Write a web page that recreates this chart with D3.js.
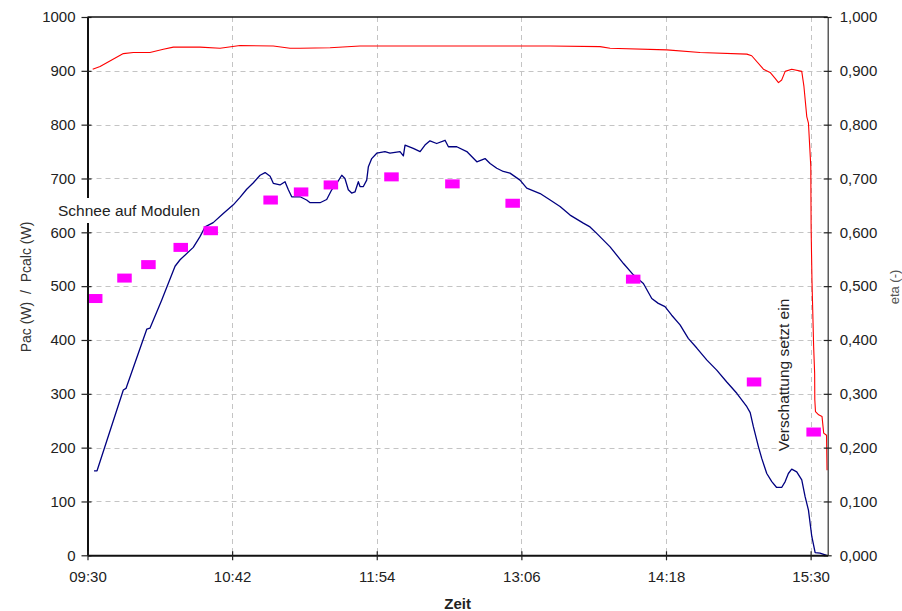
<!DOCTYPE html>
<html><head><meta charset="utf-8">
<script src="https://cdn.jsdelivr.net/npm/d3@7"></script>
<style>
html,body{margin:0;padding:0;background:#fff;}
svg{display:block;font-family:"Liberation Sans",Arial,sans-serif;}
</style></head>
<body><svg id="chart" width="902" height="611"></svg>
<script>
const xTickLabels = ["09:30","10:42","11:54","13:06","14:18","15:30"];
const yLeftTicks = [0,100,200,300,400,500,600,700,800,900,1000];
const yRightTicks = [0,0.1,0.2,0.3,0.4,0.5,0.6,0.7,0.8,0.9,1.0];

const pacTimes = ["09:33:15","09:34:45","09:47:50","09:49:10","09:59:30","10:01:05","10:06:55","10:13:35","10:16:05","10:22:40","10:26:00","10:28:30","10:32:35","10:37:35","10:42:35","10:45:55","10:49:15","10:52:35","10:55:55","10:58:25","11:00:55","11:02:30","11:05:50","11:08:20","11:10:00","11:11:40","11:15:50","11:19:05","11:20:50","11:25:45","11:29:05","11:31:35","11:34:05","11:36:35","11:38:10","11:39:50","11:41:30","11:43:10","11:44:50","11:45:40","11:47:20","11:49:00","11:49:50","11:51:30","11:54:00","11:58:05","12:00:35","12:05:35","12:07:15","12:08:05","12:12:10","12:15:35","12:18:00","12:20:30","12:23:50","12:28:00","12:29:40","12:33:50","12:38:50","12:43:50","12:47:55","12:50:25","12:53:45","12:57:00","13:00:20","13:05:20","13:08:40","13:15:20","13:20:20","13:25:15","13:30:15","13:36:50","13:40:10","13:43:30","13:50:10","13:56:50","14:01:45","14:06:45","14:10:55","14:14:10","14:17:30","14:20:50","14:25:00","14:29:05","14:33:20","14:38:15","14:43:15","14:48:15","14:53:15","14:58:15","14:59:55","15:01:30","15:04:00","15:05:40","15:08:10","15:10:40","15:13:05","15:15:35","15:17:20","15:18:55","15:20:35","15:23:05","15:25:35","15:27:15","15:28:55","15:30:35","15:32:15","15:34:40","15:38:00"];
const pacValues = [157,157,307,310,420,422,474,537,549,572,592,610,618,635,651,665,680,692,706,711,704,691,688,694,679,666,666,660,655,655,661,679,691,706,700,679,673,675,694,685,685,697,722,737,747,750,747,750,742,762,756,750,762,770,765,771,759,759,750,731,737,728,719,713,710,697,682,672,660,648,632,617,610,598,573,542,521,505,477,468,462,446,428,403,385,363,344,322,301,276,265,239,202,180,152,137,126,126,137,152,160,155,140,109,84,35,5,4,0];

const etaTimes = ["09:32:35","09:36:15","09:47:50","09:52:50","10:01:05","10:07:45","10:12:45","10:26:00","10:36:00","10:45:55","11:02:30","11:10:50","11:15:50","11:30:45","11:45:40","12:30:30","13:20:20","13:45:10","13:50:10","14:18:25","14:35:00","14:58:15","15:00:40","15:06:30","15:09:50","15:12:20","15:14:00","15:15:35","15:17:20","15:20:35","15:25:35","15:26:40","15:28:05","15:28:55","15:30:05","15:30:10","15:30:15","15:30:40","15:31:30","15:32:00","15:32:05","15:32:25","15:34:00","15:35:40","15:36:30","15:37:55","15:38:10"];
const etaValues = [0.903,0.908,0.932,0.934,0.934,0.940,0.944,0.944,0.942,0.947,0.946,0.942,0.942,0.943,0.946,0.946,0.946,0.945,0.942,0.939,0.934,0.931,0.928,0.903,0.897,0.886,0.878,0.883,0.899,0.903,0.899,0.871,0.815,0.803,0.722,0.660,0.607,0.511,0.388,0.338,0.289,0.267,0.261,0.258,0.227,0.223,0.158];

const pcalcTimes = ["09:33:50","09:48:25","10:00:20","10:16:25","10:31:20","11:01:10","11:16:20","11:31:10","12:01:20","12:31:40","13:01:40","14:01:40","15:01:50","15:31:30"];
const pcalcValues = [477,515,540,572,603,660,675,688,703,690,654,513,322,229];

const parseT = d3.timeParse("%H:%M:%S");
const parseHM = d3.timeParse("%H:%M");
const svg = d3.select("#chart");
const L = 87.5, R = 827.7, T = 17, B = 555.3;

const x = d3.scaleTime().domain([parseT("09:30:00"), parseT("15:38:30")]).range([L, R]);
const yL = d3.scaleLinear().domain([0, 1000]).range([B, T]);
const yR = d3.scaleLinear().domain([0, 1]).range([B, T]);
const xTicks = xTickLabels.map(parseHM);

// gridlines
const grid = svg.append("g").attr("stroke", "#c4c4c4").attr("stroke-width", 1).attr("stroke-dasharray", "5,4");
grid.selectAll("line.h").data(yLeftTicks.filter(v => v > 0 && v < 1000)).enter().append("line")
  .attr("x1", L).attr("x2", R).attr("y1", d => Math.round(yL(d)) + 0.5).attr("y2", d => Math.round(yL(d)) + 0.5);
grid.selectAll("line.v").data(xTicks.slice(1)).enter().append("line")
  .attr("y1", T).attr("y2", B).attr("x1", d => Math.round(x(d)) + 0.5).attr("x2", d => Math.round(x(d)) + 0.5);

// Pac line
const pac = pacTimes.map((t, i) => ({t: parseT(t), v: pacValues[i]}));
svg.append("path").datum(pac)
  .attr("fill", "none").attr("stroke", "#000080").attr("stroke-width", 1.3).attr("stroke-linejoin", "round")
  .attr("d", d3.line().x(d => x(d.t)).y(d => yL(d.v)));

// eta line
const eta = etaTimes.map((t, i) => ({t: parseT(t), v: etaValues[i]}));
svg.append("path").datum(eta)
  .attr("fill", "none").attr("stroke", "#ff0000").attr("stroke-width", 1.1).attr("stroke-linejoin", "round")
  .attr("d", d3.line().x(d => x(d.t)).y(d => yR(d.v)));

// Pcalc markers
const pc = pcalcTimes.map((t, i) => ({t: parseT(t), v: pcalcValues[i]}));
svg.append("g").selectAll("rect").data(pc).enter().append("rect")
  .attr("x", d => x(d.t) - 7.25).attr("y", d => yL(d.v) - 4.5)
  .attr("width", 14.5).attr("height", 9).attr("fill", "#ff00ff");

// axes
const fs = 15;
const axL = svg.append("g").attr("transform", `translate(${L},0)`)
  .call(d3.axisLeft(yL).tickValues(yLeftTicks).tickFormat(d3.format("d")).tickSizeOuter(0));
const axR = svg.append("g").attr("transform", `translate(${R},0)`)
  .call(d3.axisRight(yR).tickValues(yRightTicks).tickFormat(d => d3.format(".3f")(d).replace(".", ",")).tickSizeOuter(0));
const axB = svg.append("g").attr("transform", `translate(0,${B})`)
  .call(d3.axisBottom(x).tickValues(xTicks).tickFormat(d3.timeFormat("%H:%M")).tickSizeOuter(0));

[axL, axR, axB].forEach(a => {
  a.selectAll("text").attr("font-size", fs).attr("fill", "#222").attr("font-family", "Liberation Sans, Arial, sans-serif");
  a.selectAll(".tick line").attr("stroke", "#222");
});
axL.select(".domain").attr("stroke", "#111").attr("stroke-width", 2);
axL.selectAll(".tick line").attr("x1", -6).attr("x2", 4).attr("stroke-width", 1.2);
axL.selectAll("text").attr("x", -12);
axR.select(".domain").attr("stroke", "#333").attr("stroke-width", 1.2);
axR.selectAll(".tick line").attr("x1", -4).attr("x2", 4).attr("stroke-width", 1.2);
axR.selectAll("text").attr("x", 12);
axB.select(".domain").attr("stroke", "#111").attr("stroke-width", 2);
axB.selectAll(".tick line").attr("y1", -4).attr("y2", 5).attr("stroke-width", 1.2);
axB.selectAll("text").attr("y", 16);

// top border
svg.append("line").attr("x1", L).attr("x2", R).attr("y1", T).attr("y2", T)
  .attr("stroke", "#111").attr("stroke-width", 1.5);

// annotation: Schnee auf Modulen (white background over axis)
const ann1 = svg.append("g");
ann1.append("rect").attr("x", 55).attr("y", 198).attr("width", 150).attr("height", 25).attr("fill", "#fff");
ann1.append("text").attr("x", 58).attr("y", 216).attr("font-size", 15.5).attr("fill", "#222")
  .text("Schnee auf Modulen");

// annotation: Verschattung setzt ein
svg.append("text").attr("transform", "translate(789,375) rotate(-90)")
  .attr("text-anchor", "middle").attr("font-size", 15.5).attr("fill", "#222")
  .text("Verschattung setzt ein");

// axis titles
svg.append("text").attr("transform", "translate(31,287) rotate(-90)")
  .attr("text-anchor", "middle").attr("font-size", 14).attr("fill", "#333")
  .attr("xml:space", "preserve").style("white-space", "pre")
  .text("Pac (W)  /  Pcalc (W)");
svg.append("text").attr("transform", "translate(899,287) rotate(-90)")
  .attr("text-anchor", "middle").attr("font-size", 13).attr("fill", "#555")
  .text("eta (-)");
svg.append("text").attr("x", (L + R) / 2).attr("y", 609)
  .attr("text-anchor", "middle").attr("font-size", 15).attr("font-weight", "bold").attr("fill", "#222")
  .text("Zeit");
</script></body></html>
